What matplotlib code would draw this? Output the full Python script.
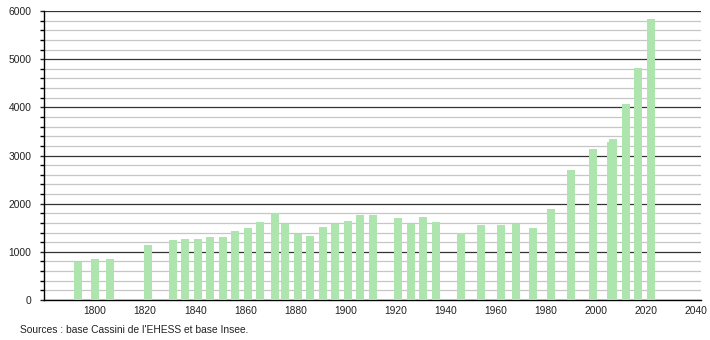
import matplotlib as mpl
import matplotlib.pyplot as plt
from matplotlib.ticker import MultipleLocator

years = [1793, 1800, 1806, 1821, 1831, 1836, 1841, 1846, 1851, 1856, 1861,
         1866, 1872, 1876, 1881, 1886, 1891, 1896, 1901, 1906, 1911, 1921,
         1926, 1931, 1936, 1946, 1954, 1962, 1968, 1975, 1982, 1990, 1999,
         2006, 2007, 2012, 2017, 2022]
population = [780, 850, 850, 1140, 1245, 1265, 1265, 1305, 1305, 1430, 1495,
              1620, 1805, 1585, 1370, 1330, 1515, 1585, 1640, 1765, 1765, 1700,
              1585, 1720, 1620, 1390, 1560, 1555, 1585, 1495, 1890, 2700, 3135,
              3285, 3340, 4065, 4815, 5830]
source = "Sources : base Cassini de l'EHESS et base Insee."

mpl.rcParams['font.family'] = ['Liberation Sans', 'DejaVu Sans']
mpl.rcParams['font.size'] = 7.4

fig = plt.figure(figsize=(7.1, 3.4), dpi=100)
ax = fig.add_axes([44 / 710, 1 - 300 / 340, (701 - 44) / 710, (300 - 11) / 340])

ax.bar(years, population, width=3.2, color='#aee4ae', zorder=3)

ax.set_xlim(1779.6, 2042)
ax.set_ylim(0, 6000)
ax.yaxis.set_major_locator(MultipleLocator(1000))
ax.yaxis.set_minor_locator(MultipleLocator(200))
ax.set_xticks(range(1800, 2041, 20))

# dark lines every 1000, light ones every 200
ax.grid(axis='y', which='major', color='#333333', lw=0.9, zorder=1)
ax.grid(axis='y', which='minor', color='#c6c6c6', lw=0.9, zorder=1)

for s in ['top', 'right']:
    ax.spines[s].set_visible(False)
ax.spines['left'].set_linewidth(1.0)
ax.spines['bottom'].set_linewidth(1.0)

ax.tick_params(axis='x', length=0, pad=4, colors='#222222')
ax.tick_params(axis='y', which='major', length=3, width=1, pad=6, colors='#222222')
ax.tick_params(axis='y', which='minor', length=3, width=1)

fig.text(20 / 710, 1 - 330 / 340, source, fontsize=7.4, color='#222222', va='center')

fig.savefig('out.png', dpi=100)
